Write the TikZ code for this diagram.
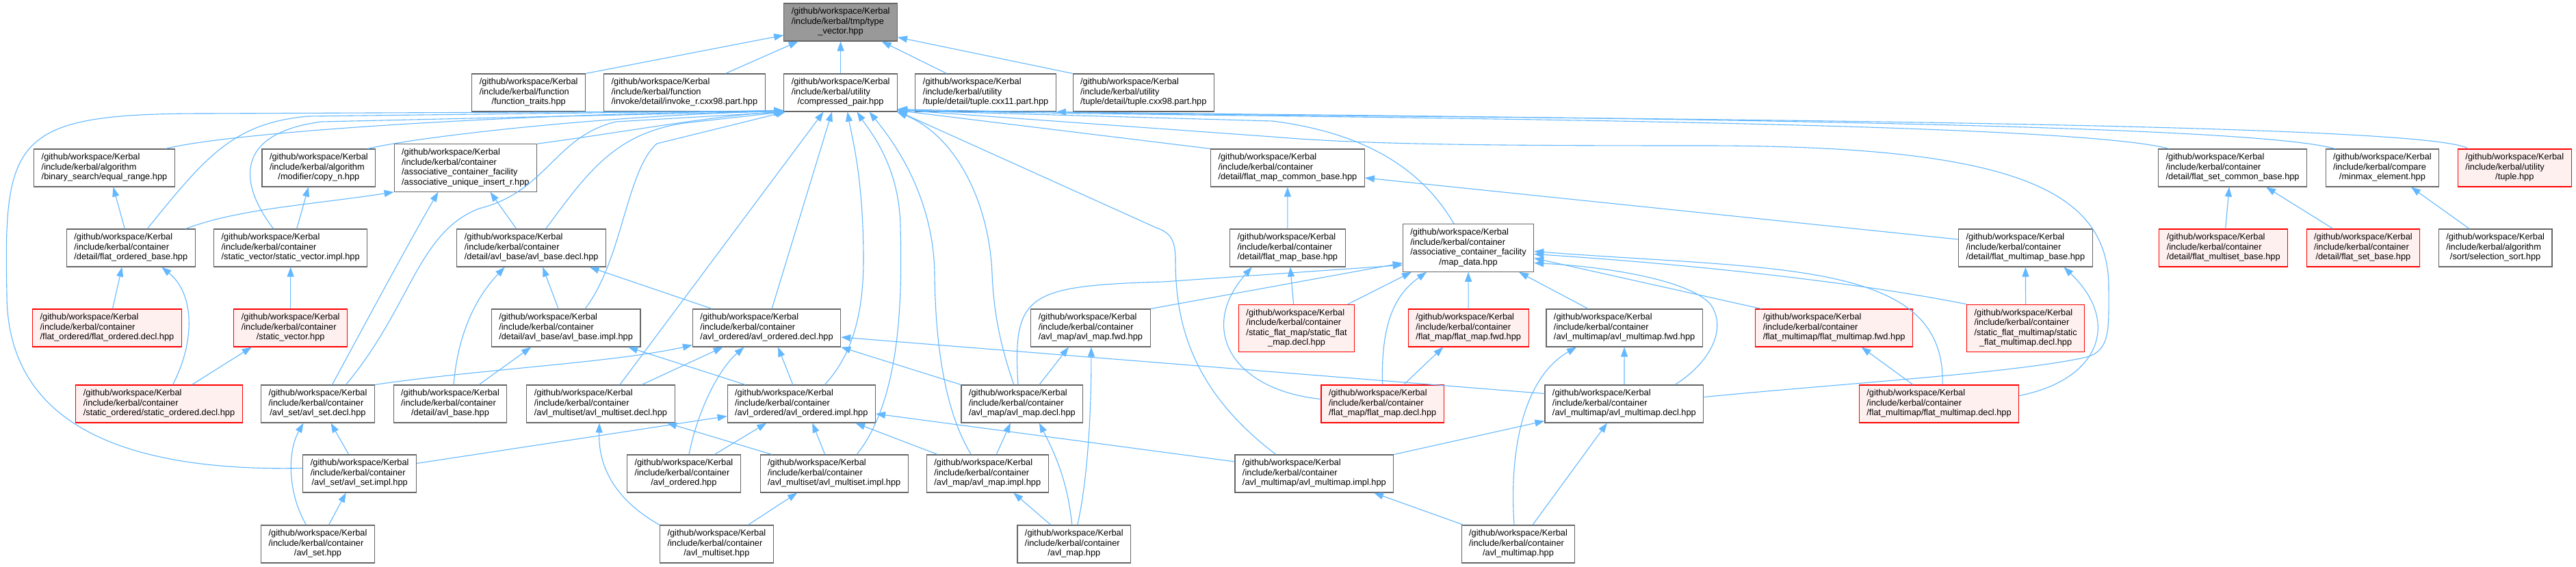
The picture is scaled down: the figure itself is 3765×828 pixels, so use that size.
\documentclass[tikz,border=0pt]{standalone}
\usepackage{fontspec}
\setmainfont{Liberation Sans}
\usetikzlibrary{arrows.meta}
\definecolor{depblue}{HTML}{63B8FF}
\definecolor{boxgray}{HTML}{666666}
\definecolor{rootgray}{HTML}{999999}
\definecolor{truncred}{HTML}{FF0000}
\definecolor{truncfill}{HTML}{FFF0F0}
% doxygen style labels: lines left aligned, last line centred
\newcommand{\flbl}[3]{\begin{tabular}{@{}l@{}}#1\\#2\\\multicolumn{1}{@{}c@{}}{#3}\end{tabular}}
\newcommand{\flblx}[4]{\begin{tabular}{@{}l@{}}#1\\#2\\#3\\\multicolumn{1}{@{}c@{}}{#4}\end{tabular}}

\begin{document}
\begin{tikzpicture}[x=1pt, y=-1pt,
  filebox/.style={draw=boxgray, fill=white, line width=1.1pt, inner xsep=11pt, inner ysep=5.75pt,
    font=\fontsize{12.8}{14.5}\selectfont},
  rootbox/.style={filebox, fill=rootgray},
  redbox/.style={filebox, draw=truncred, fill=truncfill},
  incl/.style={draw=depblue, line width=1.1pt, -{Triangle[length=14pt, width=10pt]}}]
  \useasboundingbox (0,0) rectangle (3765,828);
  \fill[white] (0,0) rectangle (3765,828);

  % Root
  \node[rootbox] (tvec) at (1228.6,32.5) {\flbl{/github/workspace/Kerbal}{/include/kerbal/tmp/type}{\_vector.hpp}};

  % Rank 1
  \node[filebox] (ftraits) at (772.7,135.5) {\flbl{/github/workspace/Kerbal}{/include/kerbal/function}{/function\_traits.hpp}};
  \node[filebox] (invoker) at (1000.4,135.5) {\flbl{/github/workspace/Kerbal}{/include/kerbal/function}{/invoke/detail/invoke\_r.cxx98.part.hpp}};
  \node[filebox] (cpair) at (1228.6,135.5) {\flbl{/github/workspace/Kerbal}{/include/kerbal/utility}{/compressed\_pair.hpp}};
  \node[filebox] (tup11) at (1440.6,135.5) {\flbl{/github/workspace/Kerbal}{/include/kerbal/utility}{/tuple/detail/tuple.cxx11.part.hpp}};
  \node[filebox] (tup98) at (1671.3,135.5) {\flbl{/github/workspace/Kerbal}{/include/kerbal/utility}{/tuple/detail/tuple.cxx98.part.hpp}};

  % Rank 2
  \node[filebox] (eqrange) at (152.5,245.5) {\flbl{/github/workspace/Kerbal}{/include/kerbal/algorithm}{/binary\_search/equal\_range.hpp}};
  \node[filebox] (copyn) at (465.9,245.5) {\flbl{/github/workspace/Kerbal}{/include/kerbal/algorithm}{/modifier/copy\_n.hpp}};
  \node[filebox] (uinsert) at (680.4,245.5) {\flblx{/github/workspace/Kerbal}{/include/kerbal/container}{/associative\_container\_facility}{/associative\_unique\_insert\_r.hpp}};
  \node[filebox] (fmcbase) at (1881.9,245.5) {\flbl{/github/workspace/Kerbal}{/include/kerbal/container}{/detail/flat\_map\_common\_base.hpp}};
  \node[filebox] (fscbase) at (3263.1,245.5) {\flbl{/github/workspace/Kerbal}{/include/kerbal/container}{/detail/flat\_set\_common\_base.hpp}};
  \node[filebox] (minmax) at (3481.9,245.5) {\flbl{/github/workspace/Kerbal}{/include/kerbal/compare}{/minmax\_element.hpp}};
  \node[redbox] (tuple) at (3675.3,245.5) {\flbl{/github/workspace/Kerbal}{/include/kerbal/utility}{/tuple.hpp}};

  % Rank 3
  \node[filebox] (fobase) at (191.3,362.5) {\flbl{/github/workspace/Kerbal}{/include/kerbal/container}{/detail/flat\_ordered\_base.hpp}};
  \node[filebox] (svimpl) at (424.7,362.5) {\flbl{/github/workspace/Kerbal}{/include/kerbal/container}{/static\_vector/static\_vector.impl.hpp}};
  \node[filebox] (avlbdecl) at (776.7,362.5) {\flbl{/github/workspace/Kerbal}{/include/kerbal/container}{/detail/avl\_base/avl\_base.decl.hpp}};
  \node[filebox] (fmbase) at (1881.8,362.5) {\flbl{/github/workspace/Kerbal}{/include/kerbal/container}{/detail/flat\_map\_base.hpp}};
  \node[filebox] (mapdata) at (2146,362.5) {\flblx{/github/workspace/Kerbal}{/include/kerbal/container}{/associative\_container\_facility}{/map\_data.hpp}};
  \node[filebox] (fmmbase) at (2960.4,362.5) {\flbl{/github/workspace/Kerbal}{/include/kerbal/container}{/detail/flat\_multimap\_base.hpp}};
  \node[redbox] (fmsbase) at (3249.7,362.5) {\flbl{/github/workspace/Kerbal}{/include/kerbal/container}{/detail/flat\_multiset\_base.hpp}};
  \node[redbox] (fsbase) at (3453.9,362.5) {\flbl{/github/workspace/Kerbal}{/include/kerbal/container}{/detail/flat\_set\_base.hpp}};
  \node[filebox] (selsort) at (3647.1,362.5) {\flbl{/github/workspace/Kerbal}{/include/kerbal/algorithm}{/sort/selection\_sort.hpp}};

  % Rank 4
  \node[redbox] (fodecl) at (156.5,479.5) {\flbl{/github/workspace/Kerbal}{/include/kerbal/container}{/flat\_ordered/flat\_ordered.decl.hpp}};
  \node[redbox] (svec) at (424.7,479.5) {\flbl{/github/workspace/Kerbal}{/include/kerbal/container}{/static\_vector.hpp}};
  \node[filebox] (avlbimpl) at (827.1,479.5) {\flbl{/github/workspace/Kerbal}{/include/kerbal/container}{/detail/avl\_base/avl\_base.impl.hpp}};
  \node[filebox] (aodecl) at (1120.6,479.5) {\flbl{/github/workspace/Kerbal}{/include/kerbal/container}{/avl\_ordered/avl\_ordered.decl.hpp}};
  \node[filebox] (amfwd) at (1593.9,479.5) {\flbl{/github/workspace/Kerbal}{/include/kerbal/container}{/avl\_map/avl\_map.fwd.hpp}};
  \node[redbox] (sfmdecl) at (1895.1,480) {\flblx{/github/workspace/Kerbal}{/include/kerbal/container}{/static\_flat\_map/static\_flat}{\_map.decl.hpp}};
  \node[redbox] (fmfwd) at (2146.2,479.5) {\flbl{/github/workspace/Kerbal}{/include/kerbal/container}{/flat\_map/flat\_map.fwd.hpp}};
  \node[filebox] (ammfwd) at (2374.1,479.5) {\flbl{/github/workspace/Kerbal}{/include/kerbal/container}{/avl\_multimap/avl\_multimap.fwd.hpp}};
  \node[redbox] (fmmfwd) at (2680.6,479.5) {\flbl{/github/workspace/Kerbal}{/include/kerbal/container}{/flat\_multimap/flat\_multimap.fwd.hpp}};
  \node[redbox] (sfmmdecl) at (2960.6,480) {\flblx{/github/workspace/Kerbal}{/include/kerbal/container}{/static\_flat\_multimap/static}{\_flat\_multimap.decl.hpp}};

  % Rank 5
  \node[redbox] (sodecl) at (232.5,590.5) {\flbl{/github/workspace/Kerbal}{/include/kerbal/container}{/static\_ordered/static\_ordered.decl.hpp}};
  \node[filebox] (asdecl) at (464.5,590.5) {\flbl{/github/workspace/Kerbal}{/include/kerbal/container}{/avl\_set/avl\_set.decl.hpp}};
  \node[filebox] (avlbase) at (658,590.5) {\flbl{/github/workspace/Kerbal}{/include/kerbal/container}{/detail/avl\_base.hpp}};
  \node[filebox] (amsdecl) at (878,590.5) {\flbl{/github/workspace/Kerbal}{/include/kerbal/container}{/avl\_multiset/avl\_multiset.decl.hpp}};
  \node[filebox] (aoimpl) at (1171.3,590.5) {\flbl{/github/workspace/Kerbal}{/include/kerbal/container}{/avl\_ordered/avl\_ordered.impl.hpp}};
  \node[filebox] (amdecl) at (1493.9,590.5) {\flbl{/github/workspace/Kerbal}{/include/kerbal/container}{/avl\_map/avl\_map.decl.hpp}};
  \node[redbox] (fmdecl) at (2020.6,590.5) {\flbl{/github/workspace/Kerbal}{/include/kerbal/container}{/flat\_map/flat\_map.decl.hpp}};
  \node[filebox] (ammdecl) at (2373.9,590.5) {\flbl{/github/workspace/Kerbal}{/include/kerbal/container}{/avl\_multimap/avl\_multimap.decl.hpp}};
  \node[redbox] (fmmdecl) at (2834,590.5) {\flbl{/github/workspace/Kerbal}{/include/kerbal/container}{/flat\_multimap/flat\_multimap.decl.hpp}};

  % Rank 6
  \node[filebox] (asimpl) at (525.7,692.5) {\flbl{/github/workspace/Kerbal}{/include/kerbal/container}{/avl\_set/avl\_set.impl.hpp}};
  \node[filebox] (aohpp) at (999.4,692.5) {\flbl{/github/workspace/Kerbal}{/include/kerbal/container}{/avl\_ordered.hpp}};
  \node[filebox] (amsimpl) at (1219.2,692.5) {\flbl{/github/workspace/Kerbal}{/include/kerbal/container}{/avl\_multiset/avl\_multiset.impl.hpp}};
  \node[filebox] (amimpl) at (1443.3,692.5) {\flbl{/github/workspace/Kerbal}{/include/kerbal/container}{/avl\_map/avl\_map.impl.hpp}};
  \node[filebox] (ammimpl) at (1920.9,692.5) {\flbl{/github/workspace/Kerbal}{/include/kerbal/container}{/avl\_multimap/avl\_multimap.impl.hpp}};

  % Rank 7
  \node[filebox] (ashpp) at (464.5,795.5) {\flbl{/github/workspace/Kerbal}{/include/kerbal/container}{/avl\_set.hpp}};
  \node[filebox] (amshpp) at (1047.4,795.5) {\flbl{/github/workspace/Kerbal}{/include/kerbal/container}{/avl\_multiset.hpp}};
  \node[filebox] (amhpp) at (1569.8,795.5) {\flbl{/github/workspace/Kerbal}{/include/kerbal/container}{/avl\_map.hpp}};
  \node[filebox] (ammhpp) at (2219,795.5) {\flbl{/github/workspace/Kerbal}{/include/kerbal/container}{/avl\_multimap.hpp}};

  % Edges into type_vector
  \draw[incl] (ftraits.north east) -- ([yshift=-19]tvec.west);
  \draw[incl] ([xshift=60]invoker.north) -- ([xshift=-62]tvec.south);
  \draw[incl] (cpair) -- (tvec);
  \draw[incl] ([xshift=-57]tup11.north) -- ([xshift=60]tvec.south);
  \draw[incl] (tup98.north west) -- ([yshift=-22]tvec.east);
  \draw[incl] ([xshift=-68]tuple.north) .. controls (3547,173) and (1950,173) .. (tup11.south east);

  % Edges into compressed_pair, from the left
  \draw[incl] ([yshift=8]asimpl.west) .. controls (180,690) and (10,620) .. (10,430)
    .. controls (5,200) and (20,166) .. (300,166) -- ([yshift=1]cpair.south west);
  \draw[incl] ([xshift=-14]eqrange.north east) .. controls (330,195) and (700,168) .. ([yshift=2]cpair.south west);
  \draw[incl] ([xshift=-12]copyn.north east) .. controls (620,198) and (900,168) .. ([yshift=1]cpair.south west);
  \draw[incl] (uinsert.north east) .. controls (900,195) and (1050,168) .. (cpair.south west);
  \draw[incl] ([xshift=24]fobase.north) .. controls (300,230) and (340,180) .. (450,170) -- ([yshift=2]cpair.south west);
  \draw[incl] ([xshift=-25]svimpl.north) .. controls (350,270) and (340,195) .. (470,178) -- ([yshift=1]cpair.south west);
  \draw[incl] ([xshift=41]asdecl.north) .. controls (600,450) and (610,340) .. (700,305)
    .. controls (800,280) and (810,200) .. (900,178) -- ([xshift=1]cpair.south west);
  \draw[incl] ([xshift=21]avlbdecl.north) .. controls (860,250) and (900,195) .. (1000,180) -- ([xshift=2]cpair.south west);
  \draw[incl] ([xshift=28]avlbimpl.north) .. controls (910,380) and (915,250) .. (960,210) -- ([xshift=3]cpair.south west);

  % Edges into compressed_pair, from below
  \draw[incl] ([xshift=28]amsdecl.north) -- ([xshift=-25]cpair.south);
  \draw[incl] ([xshift=7.5]aodecl.north) -- ([xshift=-12.6]cpair.south);
  \draw[incl] ([xshift=34]aoimpl.north) .. controls (1245,520) and (1262,460) .. (1262,380)
    .. controls (1262,260) and (1245,200) .. ([xshift=10]cpair.south);
  \draw[incl] ([xshift=33]amsimpl.north) .. controls (1320,580) and (1318,420) .. (1316,330)
    .. controls (1314,240) and (1270,190) .. ([xshift=24]cpair.south);
  \draw[incl] ([xshift=-24]amimpl.north) .. controls (1380,600) and (1367,500) .. (1366,400)
    .. controls (1364,280) and (1300,200) .. ([xshift=42]cpair.south);
  \draw[incl] ([xshift=-12]amdecl.north) .. controls (1460,500) and (1452,450) .. (1450,400)
    .. controls (1446,300) and (1400,200) .. ([xshift=-1]cpair.south east);
  \draw[incl] ([xshift=-56]ammimpl.north) .. controls (1740,570) and (1718,470) .. (1718,380)
    .. controls (1718,350) and (1710,340) .. (1690,333) -- ([yshift=1]cpair.south east);

  % Edges into compressed_pair, from the right
  \draw[incl] ([xshift=-21]mapdata.north) .. controls (2080,250) and (2000,195) .. (1860,177) -- ([yshift=2]cpair.south east);
  \draw[incl] (fmcbase.north west) -- ([yshift=2]cpair.south east);
  \draw[incl] ([xshift=16]fscbase.north west) .. controls (3000,172) and (1700,172) .. ([yshift=3]cpair.south east);
  \draw[incl] ([xshift=14]minmax.north west) .. controls (3250,170) and (1700,170) .. ([yshift=4]cpair.south east);
  \draw[incl] ([yshift=10]ammdecl.east) .. controls (2700,560) and (2950,545) .. (3050,522)
    .. controls (3085,512) and (3082,480) .. (3082,420)
    .. controls (3082,280) and (2950,214) .. (2500,213)
    .. controls (2200,213) and (2000,212) .. (1860,200) -- ([yshift=3]cpair.south east);

  % Flat ordered and static vector
  \draw[incl] ([xshift=-9]fobase.north) -- ([xshift=13]eqrange.south);
  \draw[incl] ([xshift=80]fobase.north) .. controls (350,305) and (450,300) .. (uinsert.south west);
  \draw[incl] ([xshift=9]svimpl.north) -- ([xshift=-15]copyn.south);
  \draw[incl] (svec) -- (svimpl);
  \draw[incl] ([xshift=8]fodecl.north) -- ([xshift=-13]fobase.south);
  \draw[incl] ([xshift=20]sodecl.north) .. controls (285,500) and (285,430) .. ([xshift=45]fobase.south);
  \draw[incl] ([xshift=48]sodecl.north) -- ([xshift=-57]svec.south);

  % AVL set and base
  \draw[incl] ([xshift=21]asdecl.north) .. controls (530,480) and (600,350) .. ([xshift=-40]uinsert.south);
  \draw[incl] (asdecl.north east) .. controls (700,540) and (900,530) .. ([yshift=-25]aodecl.west);
  \draw[incl] ([xshift=-16]asimpl.north) -- ([xshift=19]asdecl.south);
  \draw[incl] ([yshift=15]asimpl.east) -- ([yshift=-18]aoimpl.west);
  \draw[incl] ([xshift=-17]ashpp.north) .. controls (420,720) and (420,660) .. ([xshift=-21]asdecl.south);
  \draw[incl] ([xshift=16]ashpp.north) -- ([xshift=-20]asimpl.south);
  \draw[incl] ([xshift=5]avlbase.north) .. controls (670,480) and (700,430) .. ([xshift=-39]avlbdecl.south);
  \draw[incl] ([xshift=42]avlbase.north) -- ([xshift=-51]avlbimpl.south);
  \draw[incl] ([xshift=-11]avlbimpl.north) -- ([xshift=16.5]avlbdecl.south);
  \draw[incl] ([xshift=-22]avlbdecl.north) -- ([xshift=36]uinsert.south);

  % AVL ordered and multiset
  \draw[incl] ([xshift=-80]aodecl.north) -- ([xshift=85]avlbdecl.south);
  \draw[incl] ([xshift=60]amsdecl.north) -- ([xshift=-64]aodecl.south);
  \draw[incl] ([xshift=7.5]aohpp.north) .. controls (1020,600) and (1050,540) .. ([xshift=-33]aodecl.south);
  \draw[incl] ([xshift=-12.5]aoimpl.north) -- ([xshift=16.5]aodecl.south);
  \draw[incl] (amdecl.north west) -- (aodecl.south east);
  \draw[incl] ([yshift=15]ammdecl.west) -- ([yshift=-13.5]aodecl.east);
  \draw[incl] ([xshift=-82]aoimpl.north) -- ([xshift=91]avlbimpl.south);
  \draw[incl] ([xshift=45]aohpp.north) -- ([xshift=-51]aoimpl.south);
  \draw[incl] ([xshift=-13.5]amsimpl.north) -- ([xshift=16]aoimpl.south);
  \draw[incl] ([xshift=-73]amimpl.north) -- ([xshift=79]aoimpl.south);
  \draw[incl] ([yshift=17.5]ammimpl.west) -- ([yshift=-14.5]aoimpl.east);
  \draw[incl] ([xshift=-91]amsimpl.north) -- ([xshift=97]amsdecl.south);
  \draw[incl] (amshpp.north west) .. controls (880,720) and (875,660) .. ([xshift=-2]amsdecl.south);
  \draw[incl] ([xshift=46]amshpp.north) -- ([xshift=-54]amsimpl.south);

  % AVL map
  \draw[incl] ([xshift=25]amdecl.north) -- ([xshift=-32]amfwd.south);
  \draw[incl] ([xshift=-6]amdecl.north) .. controls (1480,430) and (1500,418) .. (1700,412) -- ([yshift=-25]mapdata.west);
  \draw[incl] (amfwd.north east) -- ([yshift=-22]mapdata.west);
  \draw[incl] ([xshift=13]amimpl.north) -- ([xshift=-17]amdecl.south);
  \draw[incl] ([xshift=-3]amhpp.north) .. controls (1560,700) and (1540,660) .. ([xshift=25]amdecl.south);
  \draw[incl] ([xshift=5]amhpp.north) .. controls (1590,700) and (1595,600) .. ([xshift=1]amfwd.south);
  \draw[incl] ([xshift=-34]amhpp.north) -- ([xshift=38]amimpl.south);

  % AVL multimap
  \draw[incl] (ammdecl) -- (ammfwd);
  \draw[incl] ([xshift=74]ammdecl.north) .. controls (2500,530) and (2525,480) .. (2500,445)
    .. controls (2470,410) and (2350,390) .. ([yshift=-22]mapdata.east);
  \draw[incl] ([xshift=-53]ammfwd.north) -- ([xshift=74]mapdata.south);
  \draw[incl] (ammimpl.north east) -- ([yshift=-25]ammdecl.west);
  \draw[incl] ([xshift=-6]ammhpp.north) .. controls (2205,650) and (2230,550) .. ([xshift=-70]ammfwd.south);
  \draw[incl] ([xshift=21]ammhpp.north) -- ([xshift=-25]ammdecl.south);
  \draw[incl] ([xshift=-80]ammhpp.north) -- ([xshift=87]ammimpl.south);

  % Flat map and multimap
  \draw[incl] (fmbase) -- (fmcbase);
  \draw[incl] ([yshift=12.5]fmmbase.west) -- ([yshift=-14.5]fmcbase.east);
  \draw[incl] ([xshift=-4.5]sfmdecl.north) -- ([xshift=4]fmbase.south);
  \draw[incl] ([xshift=75]sfmdecl.north) -- ([xshift=-83]mapdata.south);
  \draw[incl] ([yshift=7]fmdecl.west) .. controls (1800,570) and (1750,480) .. ([xshift=-52]fmbase.south);
  \draw[incl] (fmdecl.north) .. controls (2018,470) and (2040,430) .. ([xshift=-61]mapdata.south);
  \draw[incl] ([xshift=31]fmdecl.north) -- ([xshift=-37]fmfwd.south);
  \draw[incl] (fmfwd) -- (mapdata);
  \draw[incl] ([xshift=9]fmmfwd.north west) -- ([yshift=-15]mapdata.east);
  \draw[incl] (sfmmdecl.north west) .. controls (2700,410) and (2450,385) .. ([yshift=-9]mapdata.east);
  \draw[incl] ([xshift=5]fmmdecl.north) .. controls (2845,380) and (2600,395) .. ([yshift=-5]mapdata.east);
  \draw[incl] ([xshift=-38]fmmdecl.north) -- ([xshift=40]fmmfwd.south);
  \draw[incl] ([yshift=12]fmmdecl.east) .. controls (3070,555) and (3100,470) .. ([xshift=56]fmmbase.south);
  \draw[incl] (sfmmdecl) -- (fmmbase);

  % Flat set and compare
  \draw[incl] ([xshift=3]fmsbase.north) -- ([xshift=-5]fscbase.south);
  \draw[incl] ([xshift=-44]fsbase.north) -- ([xshift=49]fscbase.south);
  \draw[incl] ([xshift=-38]selsort.north) -- ([xshift=42]minmax.south);
\end{tikzpicture}
\end{document}
